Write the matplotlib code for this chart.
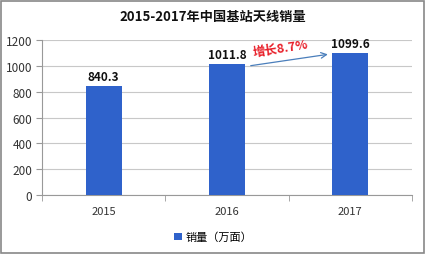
import numpy as np
import matplotlib
matplotlib.use("Agg")
import matplotlib.pyplot as plt
from matplotlib.patches import Rectangle

plt.rcParams['font.family'] = ['Noto Sans CJK SC', 'DejaVu Sans']

# données
years = ["2015", "2016", "2017"]
sales = [840.3, 1011.8, 1099.6]
growth_label = "增长8.7%"
title = "2015-2017年中国基站天线销量"
legend_label = "销量（万面）"

bar_color = "#2F62CB"
grid_color = "#C8C8C8"

fig = plt.figure(figsize=(4.26, 2.55), dpi=100)
ax = fig.add_axes([42/426, 1-196/255, 370/426, 155/255])

x = np.arange(len(years))
bars = ax.bar(x, sales, width=0.29, color=bar_color, zorder=3, label=legend_label)

for xi, v in zip(x, sales):
    ax.text(xi, v + 25, f"{v:.1f}", ha="center", va="bottom",
            fontsize=8.5, fontweight="bold", color="#111111")

ax.set_xlim(-0.5, 2.5)
ax.set_ylim(0, 1200)
ax.set_yticks(range(0, 1201, 200))
ax.set_xticks(x)
ax.set_xticklabels(years)
ax.set_xticks([-0.5, 0.5, 1.5, 2.5], minor=True)
ax.tick_params(axis="x", which="major", length=0, pad=8, labelsize=8, colors="#333333")
ax.tick_params(axis="x", which="minor", length=4, color="#999999")
ax.tick_params(axis="y", length=4, color="#999999", labelsize=8.5, colors="#333333", pad=3)
ax.yaxis.grid(True, color=grid_color, linewidth=0.8, zorder=0)
for s in ["top", "right"]:
    ax.spines[s].set_visible(False)
ax.spines["left"].set_color("#999999")
ax.spines["bottom"].set_color("#999999")

# flèche de croissance
ax.annotate("", xy=(1.84, 1092), xytext=(1.17, 998),
            arrowprops=dict(arrowstyle="->", color="#4A7EBB", lw=0.9), zorder=4)
ax.text(1.43, 1140, growth_label, ha="center", va="center", rotation=9,
        color="#E8202A", fontsize=9, fontweight="bold", zorder=5)

fig.text(0.5, 1-17/255, title, ha="center", va="center",
         fontsize=9.5, fontweight="bold", color="#111111")

fig.legend(handles=[bars], labels=[legend_label], loc="center",
           bbox_to_anchor=(213/426, 1-238/255), frameon=False,
           fontsize=8, handlelength=0.7, handleheight=0.7, handletextpad=0.3)

fig.patches.append(Rectangle((0.002, 0.004), 0.994, 0.99, transform=fig.transFigure,
                             fill=False, edgecolor="#888888", linewidth=1.2))

plt.savefig("out.png", dpi=100)
